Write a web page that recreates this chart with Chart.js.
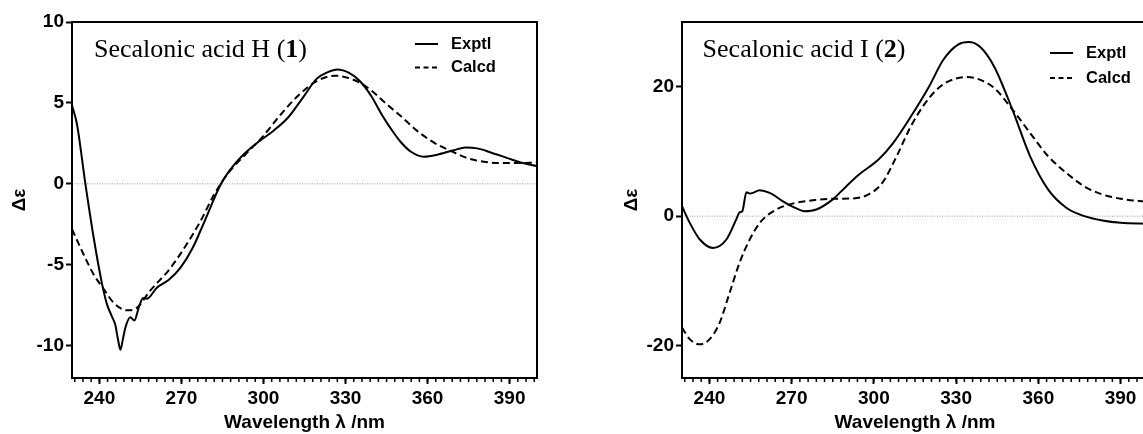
<!DOCTYPE html>
<html><head><meta charset="utf-8">
<script src="https://cdn.jsdelivr.net/npm/chart.js@4.4.1/dist/chart.umd.min.js"></script>
<style>
html,body{margin:0;padding:0;width:1143px;height:434px;overflow:hidden;background:#fff;}
#w1{position:absolute;left:0;top:0;width:560px;height:434px;}
#w2{position:absolute;left:600px;top:0;width:600px;height:434px;}
</style></head><body>
<div id="w1"><canvas id="c1"></canvas></div>
<div id="w2"><canvas id="c2"></canvas></div>
<script>
// ---- data ----
const xTickLabels = [240, 270, 300, 330, 360, 390];
const yTicks1 = [-10, -5, 0, 5, 10];
const yTicks2 = [-20, 0, 20];
const seriesNames = ['Exptl', 'Calcd'];
const titles = ['Secalonic acid H', 'Secalonic acid I'];
const compoundNos = ['1', '2'];

const exp1Wl  = [230,231.8,234.9,237.9,241.0,242.8,244.6,245.8,246.8,247.7,248.6,249.5,251.3,252.8,254.4,256.0,257.4,261.1,265.3,269.6,274.0,278.5,284.5,289.4,293.3,298.6,303.8,309.0,314.3,319.5,323.5,327.0,331.3,335.2,339.5,343.5,347.0,350.1,353.8,358.6,363.5,369.6,373.9,378.2,383.1,389.2,394.0,400];
const exp1Val = [4.85,3.7,0,-3.3,-6.2,-7.45,-8.2,-8.7,-9.6,-10.25,-9.6,-8.9,-8.25,-8.45,-7.65,-7.05,-7.1,-6.4,-5.95,-5.2,-4.0,-2.3,0,1.2,1.9,2.65,3.3,4.1,5.3,6.5,6.9,7.06,6.85,6.35,5.4,4.2,3.3,2.6,2.0,1.68,1.8,2.08,2.25,2.19,1.94,1.59,1.32,1.1];
const calc1Wl  = [230,234.2,237.9,241.6,245.2,250.1,253.8,258.6,266.0,277.0,281.5,286.8,293.3,299.9,306.4,313.0,319.5,326.1,332.6,339.2,344.5,350.1,356.2,362.3,368.4,374.5,380.6,386.7,392.8,400];
const calc1Val = [-2.8,-4.35,-5.6,-6.5,-7.35,-7.82,-7.65,-6.6,-5.2,-2.3,-0.8,0.6,1.8,2.95,4.3,5.5,6.35,6.68,6.45,5.8,5.0,4.2,3.27,2.55,2.04,1.59,1.36,1.28,1.28,1.32];

const exp2Wl  = [230,232.8,236.5,241.3,246.2,249.8,251.0,252.0,253.5,254.7,255.9,258.3,262.0,266.8,270.5,274.7,279.0,285.0,289.9,294.8,301.7,307.0,313.5,320.1,325.4,330.7,334.6,338.6,343.9,350.5,357.0,363.6,370.2,376.8,383.4,390,400];
const exp2Val = [1.55,-1.0,-3.6,-4.9,-3.6,-0.5,0.6,0.77,3.7,3.5,3.6,4.0,3.6,2.3,1.45,0.77,1.03,2.6,4.6,6.5,8.75,11.3,15.4,20.0,24.2,26.5,26.9,26.2,23.1,16.5,9.25,4.1,1.3,0,-0.67,-1.03,-1.15];
const calc2Wl  = [230,232.8,236.5,240.1,243.7,247.4,251.0,254.7,258.9,264.4,270.5,277.8,285.0,292.5,297.7,303.0,308.3,313.5,318.8,324.1,329.4,334.0,338.6,343.9,350.5,357.0,363.6,370.2,376.8,383.4,390,400];
const calc2Val = [-17.2,-19.0,-19.8,-19.0,-16.5,-11.8,-7.2,-3.6,-0.77,1.03,1.96,2.47,2.68,2.75,3.3,5.1,9.25,13.9,17.5,20.0,21.2,21.5,21.1,19.8,16.5,12.85,9.25,6.7,4.6,3.35,2.7,2.2];

function pairs(xs, ys) { return xs.map((x, i) => ({x: x, y: ys[i]})); }

const SANS = 'Liberation Sans, Arial, sans-serif';
const SERIF = 'Liberation Serif, Times New Roman, serif';

const decorPlugin = {
  id: 'decor',
  beforeDatasetsDraw(chart, args, o) {
    const {ctx, chartArea: a} = chart;
    const y0 = chart.scales.y.getPixelForValue(0);
    ctx.save();
    ctx.strokeStyle = '#9a9a9a';
    ctx.lineWidth = 1;
    ctx.setLineDash([1, 1.5]);
    ctx.beginPath(); ctx.moveTo(a.left, y0); ctx.lineTo(a.right, y0); ctx.stroke();
    ctx.restore();
  },
  afterDatasetsDraw(chart, args, o) {
    const {ctx, chartArea: a} = chart;
    const xs = chart.scales.x;
    ctx.save();
    // frame
    ctx.strokeStyle = '#000'; ctx.lineWidth = 2; ctx.setLineDash([]);
    ctx.strokeRect(a.left, a.top, a.right - a.left, a.bottom - a.top);
    // minor ticks
    ctx.lineWidth = 1.5;
    for (let v = xs.min + 1; v < xs.max; v += o.minorStep) {
      const p = xs.getPixelForValue(v);
      ctx.beginPath(); ctx.moveTo(p, a.bottom); ctx.lineTo(p, a.bottom + 4); ctx.stroke();
    }
    // legend
    ctx.font = 'bold 16.5px ' + SANS;
    ctx.textBaseline = 'middle'; ctx.textAlign = 'left'; ctx.fillStyle = '#000';
    chart.data.datasets.forEach((ds, i) => {
      const y = o.legY + i * o.legDy;
      ctx.setLineDash(i === 0 ? [] : [5, 3.5]);
      ctx.lineWidth = 2;
      ctx.beginPath(); ctx.moveTo(o.legX, y); ctx.lineTo(o.legX + 23, y); ctx.stroke();
      ctx.fillText(ds.label, o.legX + 36, y);
    });
    // title
    ctx.setLineDash([]);
    ctx.textBaseline = 'alphabetic';
    let x = o.titleX;
    const parts = [[o.title + ' (', false], [o.num, true], [')', false]];
    parts.forEach(([t, b]) => {
      ctx.font = (b ? 'bold ' : '') + '26px ' + SERIF;
      ctx.fillText(t, x, o.titleY);
      x += ctx.measureText(t).width;
    });
    ctx.restore();
  }
};

function makeChart(id, c) {
  return new Chart(document.getElementById(id), {
    type: 'line',
    data: { datasets: [
      { label: seriesNames[0], data: pairs(c.ew, c.ev), borderColor: '#000', borderWidth: 2,
        pointRadius: 0, fill: false, cubicInterpolationMode: 'monotone' },
      { label: seriesNames[1], data: pairs(c.cw, c.cv), borderColor: '#000', borderWidth: 2,
        borderDash: [7, 4], pointRadius: 0, fill: false, cubicInterpolationMode: 'monotone' }
    ]},
    options: {
      responsive: true, maintainAspectRatio: false, animation: false,
      layout: { padding: { top: 22, right: c.padRight, bottom: 0, left: 0 } },
      plugins: {
        legend: { display: false }, tooltip: { enabled: false },
        decor: { minorStep: 3, legX: c.legX, legY: c.legY, legDy: c.legDy,
                 title: c.title, num: c.num, titleX: c.titleX, titleY: 57 }
      },
      scales: {
        x: {
          type: 'linear', min: 230, max: 400,
          afterBuildTicks: s => { s.ticks = xTickLabels.map(v => ({ value: v })); },
          afterFit: s => { s.height = 56; },
          grid: { drawOnChartArea: false, drawTicks: true, tickLength: 6, tickColor: '#000', tickWidth: 2 },
          border: { display: false },
          ticks: { color: '#000', font: { family: SANS, size: 19, weight: 'bold' }, padding: 3,
                   maxRotation: 0, autoSkip: false },
          title: { display: true, text: 'Wavelength λ /nm', color: '#000',
                   font: { family: SANS, size: 19, weight: 'bold' }, padding: { top: 0, bottom: 0 } }
        },
        y: {
          type: 'linear', min: c.ymin, max: c.ymax,
          afterBuildTicks: s => { s.ticks = c.yt.map(v => ({ value: v })); },
          afterFit: s => { s.width = c.yw; },
          grid: { drawOnChartArea: false, drawTicks: true, tickLength: 6, tickColor: '#000', tickWidth: 2 },
          border: { display: false },
          ticks: { color: '#000', font: { family: SANS, size: 19, weight: 'bold' }, padding: 2, autoSkip: false },
          title: { display: true, text: 'Δε', color: '#000',
                   font: { family: SANS, size: 19, weight: 'bold' }, padding: { top: c.ytp, bottom: 0 } }
        }
      }
    },
    plugins: [decorPlugin]
  });
}

makeChart('c1', { ew: exp1Wl, ev: exp1Val, cw: calc1Wl, cv: calc1Val, ymin: -12, ymax: 10, yt: yTicks1,
  yw: 72, ytp: 8, padRight: 23, legX: 415, legY: 44, legDy: 23.5,
  title: titles[0], num: compoundNos[0], titleX: 94 });
makeChart('c2', { ew: exp2Wl, ev: exp2Val, cw: calc2Wl, cv: calc2Val, ymin: -25, ymax: 30, yt: yTicks2,
  yw: 82, ytp: 20, padRight: 52, legX: 450, legY: 53, legDy: 25,
  title: titles[1], num: compoundNos[1], titleX: 102.6 });
</script>
</body></html>
